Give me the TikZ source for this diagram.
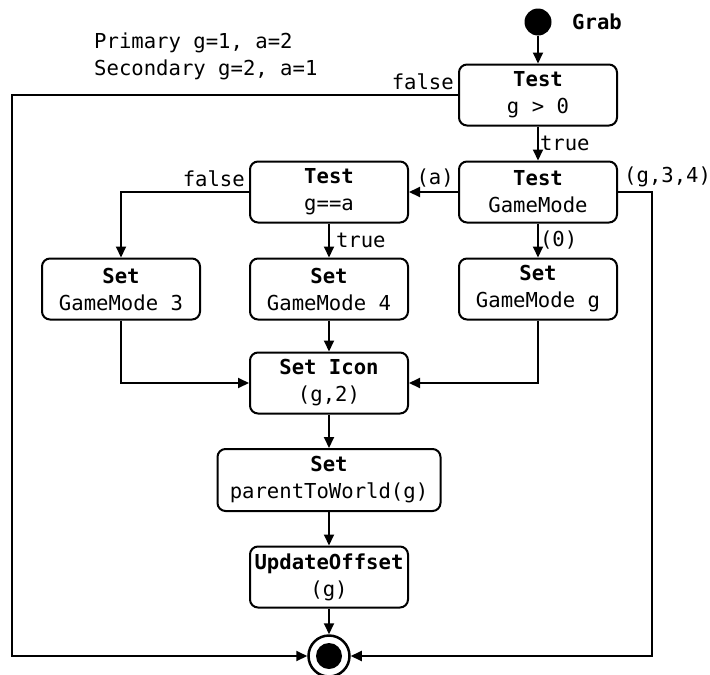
\documentclass[tikz,border=0pt]{standalone}
\usepackage{fontspec}
\setmonofont{DejaVu Sans Mono}
\usetikzlibrary{arrows.meta,calc}

\begin{document}
\begin{tikzpicture}[x=1pt,y=-1pt,
  every node/.style={font=\ttfamily\fontsize{20.6}{27}\selectfont},
  blk/.style={draw, line width=2pt, rounded corners=8pt, align=center,
              inner sep=0pt, minimum width=158pt, minimum height=61pt},
  lbl/.style={inner sep=2pt},
  ln/.style={line width=2pt},
  arr/.style={line width=2pt, -{Triangle[length=11pt,width=10pt]}}]

\useasboundingbox (0,0) rectangle (710,675);

% start and end states
\node[circle, fill=black, minimum size=27pt, inner sep=0pt] (start) at (538,22) {};
\node[anchor=west, inner sep=0pt] (grab) at (572,22) {\textbf{Grab}};
\node[circle, draw, line width=2.5pt, minimum size=41pt, inner sep=0pt] (fin) at (329,656) {};
\node[circle, fill=black, minimum size=26pt, inner sep=0pt] (fincore) at (329,656) {};

% notes
\node[anchor=west, align=left, inner sep=0pt] (note) at (94,56) {Primary g=1, a=2\\Secondary g=2, a=1};

% activity boxes
\node[blk] (t1) at (538,95) {\textbf{Test}\\g > 0};
\node[blk] (t2) at (538,192) {\textbf{Test}\\GameMode};
\node[blk] (t3) at (329,192) {\textbf{Test}\\g==a};
\node[blk] (s3) at (121,289) {\textbf{Set}\\GameMode 3};
\node[blk] (s4) at (329,289) {\textbf{Set}\\GameMode 4};
\node[blk] (sg) at (538,289) {\textbf{Set}\\GameMode g};
\node[blk] (icon) at (329,383) {\textbf{Set Icon}\\(g,2)};
\node[blk, minimum width=223pt, minimum height=62pt] (ptw) at (329,480) {\textbf{Set}\\parentToWorld(g)};
\node[blk] (upd) at (329,577) {\textbf{UpdateOffset}\\(g)};

% routing points
\coordinate (lft) at (12,95);
\coordinate (rgt) at (652,192);
\coordinate (fl) at (121,192);

% connectors
\draw[arr] (start) -- (t1);
\draw[arr] (t1) -- node[lbl, right, inner sep=1pt] {true} (t2);
\draw[arr] (t2) -- (t3);
\draw[arr] (t2) -- node[lbl, right, inner sep=1pt] {(0)} (sg);
\draw[arr] (t3) -- node[lbl, right, inner sep=6pt] {true} (s4);
\draw[arr] (t3.west) -- (fl) -- (s3);
\draw[arr] (s3) |- (icon);
\draw[arr] (s4) -- (icon);
\draw[arr] (sg) |- (icon);
\draw[arr] (icon) -- (ptw);
\draw[arr] (ptw) -- (upd);
\draw[arr] (upd) -- (fin);
\draw[arr] (t1.west) -- (lft) |- (fin);
\draw[arr] (t2.east) -- (rgt) |- (fin);

% branch labels
\node[lbl, anchor=south east] at ([shift={(-2,-3)}]t1.west) {false};
\node[lbl, anchor=south east] at ([shift={(-2,-3)}]t2.west) {(a)};
\node[lbl, anchor=south west] at ([shift={(4,-3)}]t2.east) {(g,3,4)};
\node[lbl, anchor=south east] at ([shift={(-2,-3)}]t3.west) {false};

\end{tikzpicture}
\end{document}
